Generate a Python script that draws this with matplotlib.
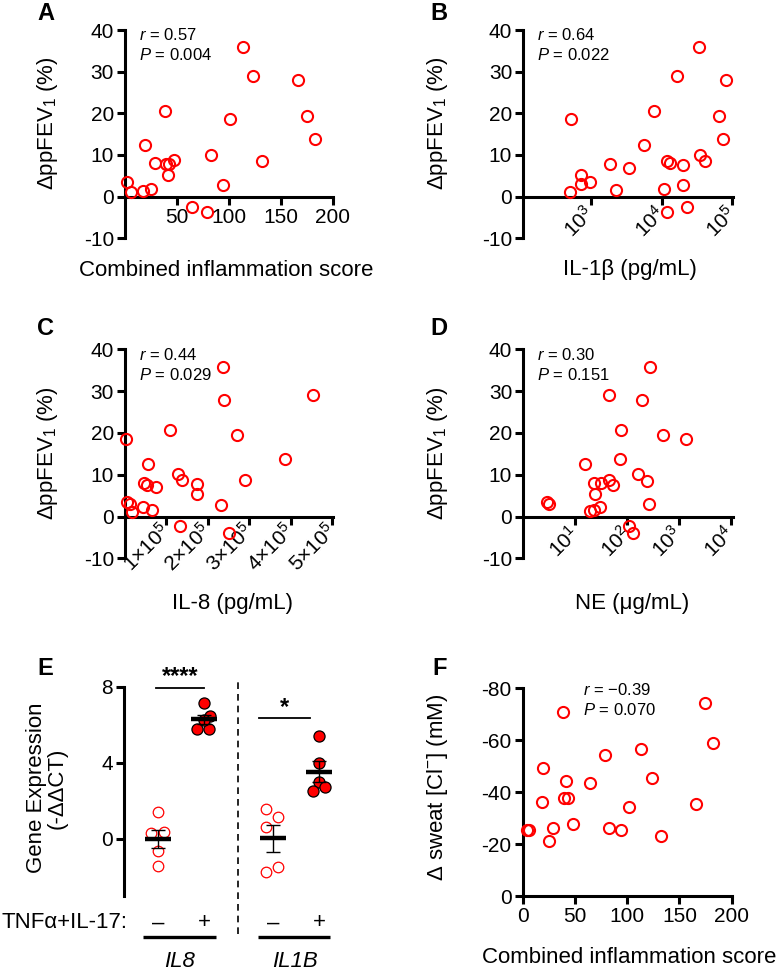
import matplotlib
matplotlib.use("Agg")
import matplotlib.pyplot as plt
import numpy as np
from matplotlib.ticker import NullLocator, FixedLocator

plt.rcParams['font.family'] = ['Liberation Sans', 'DejaVu Sans']
plt.rcParams['mathtext.fontset'] = 'custom'
plt.rcParams['mathtext.rm'] = 'Liberation Sans'
plt.rcParams['mathtext.it'] = 'Liberation Sans:italic'
plt.rcParams['mathtext.bf'] = 'Liberation Sans:bold'
plt.rcParams['axes.unicode_minus'] = False

# ---------------- data ----------------
# Panel A: combined inflammation score vs dppFEV1
a_x = [113.6, 123.2, 166.4, 175.0, 182.7, 38.7, 101.4, 19.5, 82.9, 131.8, 28.8,
       39.0, 42.2, 47.4, 41.0, 94.0, 2.2, 5.5, 17.6, 24.7, 64.0, 78.7]
a_y = [35.8, 29.0, 28.0, 19.4, 13.8, 20.6, 18.6, 12.4, 10.0, 8.6, 8.0,
       7.8, 7.8, 8.7, 5.1, 2.7, 3.4, 1.1, 1.4, 1.8, -2.6, -3.8]

# Panel B: IL-1beta (log10 pg/mL) vs dppFEV1
b_logx = [4.533, 4.212, 4.910, 4.811, 4.873, 3.892, 2.717, 3.750, 4.547, 4.613, 3.269, 3.542,
          4.071, 4.118, 4.307, 2.854, 2.854, 2.986, 2.703, 3.354, 4.033, 4.297, 4.354, 4.080]
b_y = [35.8, 29.0, 28.0, 19.4, 13.8, 20.6, 18.6, 12.3, 10.0, 8.6, 7.8, 6.9,
       8.6, 8.0, 7.5, 5.2, 3.0, 3.4, 1.2, 1.5, 1.9, 2.7, -2.6, -3.8]

# Panel C: IL-8 (x1e5 pg/mL) vs dppFEV1
c_x = [2.36, 2.39, 4.54, 1.09, 2.70, 0.02, 3.86, 0.56, 1.28, 1.37, 2.90, 1.74,
       1.74, 0.46, 0.52, 0.75, 2.31, 0.05, 0.12, 0.16, 0.43, 0.64, 1.33, 2.50]
c_y = [35.8, 28.0, 29.1, 20.6, 19.6, 18.6, 13.9, 12.5, 10.2, 8.8, 8.8, 7.9,
       5.3, 8.1, 7.5, 7.0, 2.9, 3.5, 3.0, 1.2, 2.2, 1.6, -2.3, -3.8]

# Panel D: NE (log10 ug/mL) vs dppFEV1
d_logx = [2.439, 1.658, 2.284, 1.871, 2.684, 3.129, 1.852, 1.194, 2.206, 2.387, 1.658, 1.730,
          1.354, 1.497, 1.387, 2.419, 1.484, 1.290, 1.368, 0.465, 0.503, 2.026, 2.103]
d_y = [35.8, 29.1, 28.0, 20.6, 19.6, 18.6, 13.8, 12.5, 10.2, 8.6, 8.8, 7.5,
       8.0, 8.1, 5.4, 3.0, 2.2, 1.3, 1.6, 3.5, 3.0, -2.3, -3.8]

# Panel E: gene expression (-ddCT)
e_groups = ['IL8 -', 'IL8 +', 'IL1B -', 'IL1B +']
e_il8_ctrl = [1.40, 0.33, 0.35, -0.63, -1.40]
e_il8_stim = [7.13, 6.46, 5.80, 5.80, 6.25]
e_il1b_ctrl = [1.58, 1.14, 0.65, -1.75, -1.49]
e_il1b_stim = [5.41, 4.01, 3.01, 2.54, 2.72]
e_treat_labels = ['\u2013', '+', '\u2013', '+']
e_gene_labels = ['IL8', 'IL1B']
e_sig = ['****', '*']

# Panel F: combined inflammation score vs d sweat chloride
f_x = [174.8, 182.5, 38.6, 113.6, 78.8, 19.8, 123.4, 41.1, 64.7, 18.8, 39.2,
       43.1, 165.5, 101.4, 47.8, 29.0, 82.9, 93.8, 132.0, 3.8, 6.4, 25.5]
f_y = [-74.2, -59.0, -70.9, -56.5, -54.2, -49.2, -45.4, -44.2, -43.4, -36.3, -37.6,
       -37.9, -35.4, -34.3, -27.7, -26.1, -26.3, -25.3, -23.2, -25.3, -25.3, -21.2]

stats = {'A': ('0.57', '0.004'), 'B': ('0.64', '0.022'), 'C': ('0.44', '0.029'),
         'D': ('0.30', '0.151'), 'F': ('\u22120.39', '0.070')}

# ---------------- layout ----------------
W, H = 778, 971
fig = plt.figure(figsize=(W / 100, H / 100), dpi=100)

def ax_px(left, right, top, bottom):
    return fig.add_axes([left / W, 1 - bottom / H, (right - left) / W, (bottom - top) / H])

def ftext(x, y, s, **kw):
    return fig.text(x / W, 1 - y / H, s, **kw)

RED = '#ff0000'
SPW = 2.2
TICK_FS = 15
LAB_FS = 16
ANN_FS = 12

def style(ax):
    for s in ['top', 'right']:
        ax.spines[s].set_visible(False)
    for s in ['left', 'bottom']:
        ax.spines[s].set_linewidth(SPW)
    ax.tick_params(direction='out', length=6, width=SPW, labelsize=TICK_FS, pad=2)
    ax.patch.set_alpha(0)

def scatter(ax, x, y):
    ax.plot(x, y, 'o', ms=8.0, mfc='none', mec=RED, mew=1.5, clip_on=False, zorder=5)

def fev_axis(ax):
    ax.set_ylim(-10, 40)
    ax.set_yticks([-10, 0, 10, 20, 30, 40])
    ax.spines['bottom'].set_position(('data', 0))

def rot_labels(ax):
    for lab in ax.get_xticklabels():
        lab.set_rotation(45)
        lab.set_ha('right')
        lab.set_va('center')
        lab.set_rotation_mode('anchor')

def annot(x, y1, key):
    r, p = stats[key]
    ftext(x, y1, r'$\it{r}$ = ' + r, fontsize=ANN_FS, va='baseline')
    ftext(x, y1 + 20, r'$\it{P}$ = ' + p, fontsize=ANN_FS, va='baseline')

# Panel A
axA = ax_px(125, 333, 30, 238.3)
style(axA); fev_axis(axA)
axA.set_xlim(0, 200)
axA.set_xticks([50, 100, 150, 200])
scatter(axA, a_x, a_y)
annot(139, 40, 'A')

# Panel B
axB = ax_px(523.3, 733, 30, 238.3)
style(axB); fev_axis(axB)
axB.set_xscale('log')
axB.set_xlim(10 ** 2.042, 10 ** 5.01)
axB.xaxis.set_major_locator(FixedLocator([1e3, 1e4, 1e5]))
axB.xaxis.set_minor_locator(NullLocator())
axB.set_xticklabels([r'$10^3$', r'$10^4$', r'$10^5$'])
axB.tick_params(axis='x', pad=4)
rot_labels(axB)
scatter(axB, [10 ** v for v in b_logx], b_y)
annot(536.7, 40, 'B')

# Panel C
axC = ax_px(125, 333.3, 349.3, 558.5)
style(axC); fev_axis(axC)
axC.set_xlim(0, 5.02e5)
axC.set_xticks([1e5, 2e5, 3e5, 4e5, 5e5])
axC.set_xticklabels([r'1×10$^5$', r'2×10$^5$', r'3×10$^5$', r'4×10$^5$', r'5×10$^5$'])
rot_labels(axC)
scatter(axC, [v * 1e5 for v in c_x], c_y)
annot(139, 360, 'C')

# Panel D
axD = ax_px(523.3, 732.7, 349.3, 558.5)
style(axD); fev_axis(axD)
axD.set_xscale('log')
axD.set_xlim(1, 10 ** 4.03)
axD.xaxis.set_major_locator(FixedLocator([1e1, 1e2, 1e3, 1e4]))
axD.xaxis.set_minor_locator(NullLocator())
axD.set_xticklabels([r'$10^1$', r'$10^2$', r'$10^3$', r'$10^4$'])
axD.tick_params(axis='x', pad=4)
rot_labels(axD)
scatter(axD, [10 ** v for v in d_logx], d_y)
annot(536.7, 360, 'D')

# Panel E
axE = ax_px(124.3, 342, 686.7, 896)
style(axE)
axE.spines['bottom'].set_visible(False)
axE.set_xticks([])
axE.set_ylim(-3, 8)
axE.set_xlim(-0.73, 4.0)
axE.set_yticks([0, 4, 8])
pos = [0, 1, 2.5, 3.5]
jit = [[0, -0.14, 0.14, 0, 0], [0, 0.13, -0.14, 0.11, 0],
       [-0.15, 0.12, -0.15, -0.15, 0.12], [0, 0, 0, -0.13, 0.13]]
vals = [e_il8_ctrl, e_il8_stim, e_il1b_ctrl, e_il1b_stim]
for i, (p, v) in enumerate(zip(pos, vals)):
    xs = [p + j for j in jit[i]]
    if i % 2 == 0:
        axE.plot(xs, v, 'o', ms=7.6, mfc='none', mec=RED, mew=0.9, clip_on=False, zorder=3)
    else:
        axE.plot(xs, v, 'o', ms=8.0, mfc=RED, mec='black', mew=0.9, clip_on=False, zorder=3)
    m = np.mean(v)
    sem = np.std(v, ddof=1) / np.sqrt(len(v))
    axE.plot([p - 0.29, p + 0.29], [m, m], color='black', lw=3.2, zorder=4, solid_capstyle='butt')
    axE.errorbar([p], [m], yerr=[sem], color='black', lw=1.0, capsize=5, capthick=1.0, zorder=4)
axE.plot([1.75, 1.75], [-5.0, 8.45], color='black', lw=1.2, ls=(0, (4, 3)), clip_on=False)
# significance
axE.plot([-0.05, 1.01], [7.95, 7.95], color='black', lw=1.3, clip_on=False)
axE.text(0.48, 7.95, e_sig[0], ha='center', va='bottom', fontsize=17, fontweight='bold', clip_on=False)
axE.plot([2.2, 3.3], [6.34, 6.34], color='black', lw=1.3, clip_on=False)
axE.text(2.75, 6.3, e_sig[1], ha='center', va='bottom', fontsize=17, fontweight='bold', clip_on=False)
# treatment row
for p, t in zip(pos, e_treat_labels):
    axE.text(p, -4.41, t, ha='center', va='center', fontsize=16, clip_on=False)
axE.text(-0.66, -4.41, 'TNFα+IL-17:', ha='right', va='center', fontsize=16, clip_on=False)
axE.plot([-0.33, 1.26], [-5.18, -5.18], color='black', lw=2.4, clip_on=False, solid_capstyle='butt')
axE.plot([2.17, 3.74], [-5.18, -5.18], color='black', lw=2.4, clip_on=False, solid_capstyle='butt')
axE.text(0.48, -6.44, e_gene_labels[0], ha='center', va='center', fontsize=16, style='italic', clip_on=False)
axE.text(2.98, -6.44, e_gene_labels[1], ha='center', va='center', fontsize=16, style='italic', clip_on=False)

# Panel F
axF = ax_px(522.7, 731.7, 688.3, 896)
style(axF)
axF.set_xlim(0, 200)
axF.set_ylim(0, -80)
axF.set_xticks([0, 50, 100, 150, 200])
axF.set_yticks([0, -20, -40, -60, -80])
scatter(axF, f_x, f_y)
r, p = stats['F']
ftext(582.7, 695, r'$\it{r}$ = ' + r, fontsize=ANN_FS, va='baseline')
ftext(582.7, 715, r'$\it{P}$ = ' + p, fontsize=ANN_FS, va='baseline')

# axis labels
ylab_fev = r'ΔppFEV$_1$ (%)'
ftext(47, 123, ylab_fev, rotation=90, ha='center', va='center', fontsize=LAB_FS)
ftext(437, 123, ylab_fev, rotation=90, ha='center', va='center', fontsize=LAB_FS)
ftext(47, 453, ylab_fev, rotation=90, ha='center', va='center', fontsize=LAB_FS)
ftext(437, 453, ylab_fev, rotation=90, ha='center', va='center', fontsize=LAB_FS)
ftext(47, 788, 'Gene Expression\n(-ΔΔCT)', rotation=90, ha='center', va='center',
      fontsize=LAB_FS, linespacing=1.0, multialignment='center')
ftext(437, 787, r'Δ sweat [Cl$^{-}$] (mM)', rotation=90, ha='center', va='center', fontsize=LAB_FS)

ftext(226.5, 270, 'Combined inflammation score', ha='center', va='center', fontsize=LAB_FS)
ftext(630, 270, 'IL-1β (pg/mL)', ha='center', va='center', fontsize=LAB_FS)
ftext(233, 603, 'IL-8 (pg/mL)', ha='center', va='center', fontsize=LAB_FS)
ftext(631.7, 603, 'NE (μg/mL)', ha='center', va='center', fontsize=LAB_FS)
ftext(629, 957, 'Combined inflammation score', ha='center', va='center', fontsize=LAB_FS)

# panel letters
for (x, y, s) in [(37, 20, 'A'), (430, 20, 'B'), (37, 335, 'C'), (430, 335, 'D'),
                  (37, 675, 'E'), (432, 675, 'F')]:
    ftext(x, y, s, fontsize=17, fontweight='bold', va='baseline')

fig.savefig('out.png', dpi=100)
